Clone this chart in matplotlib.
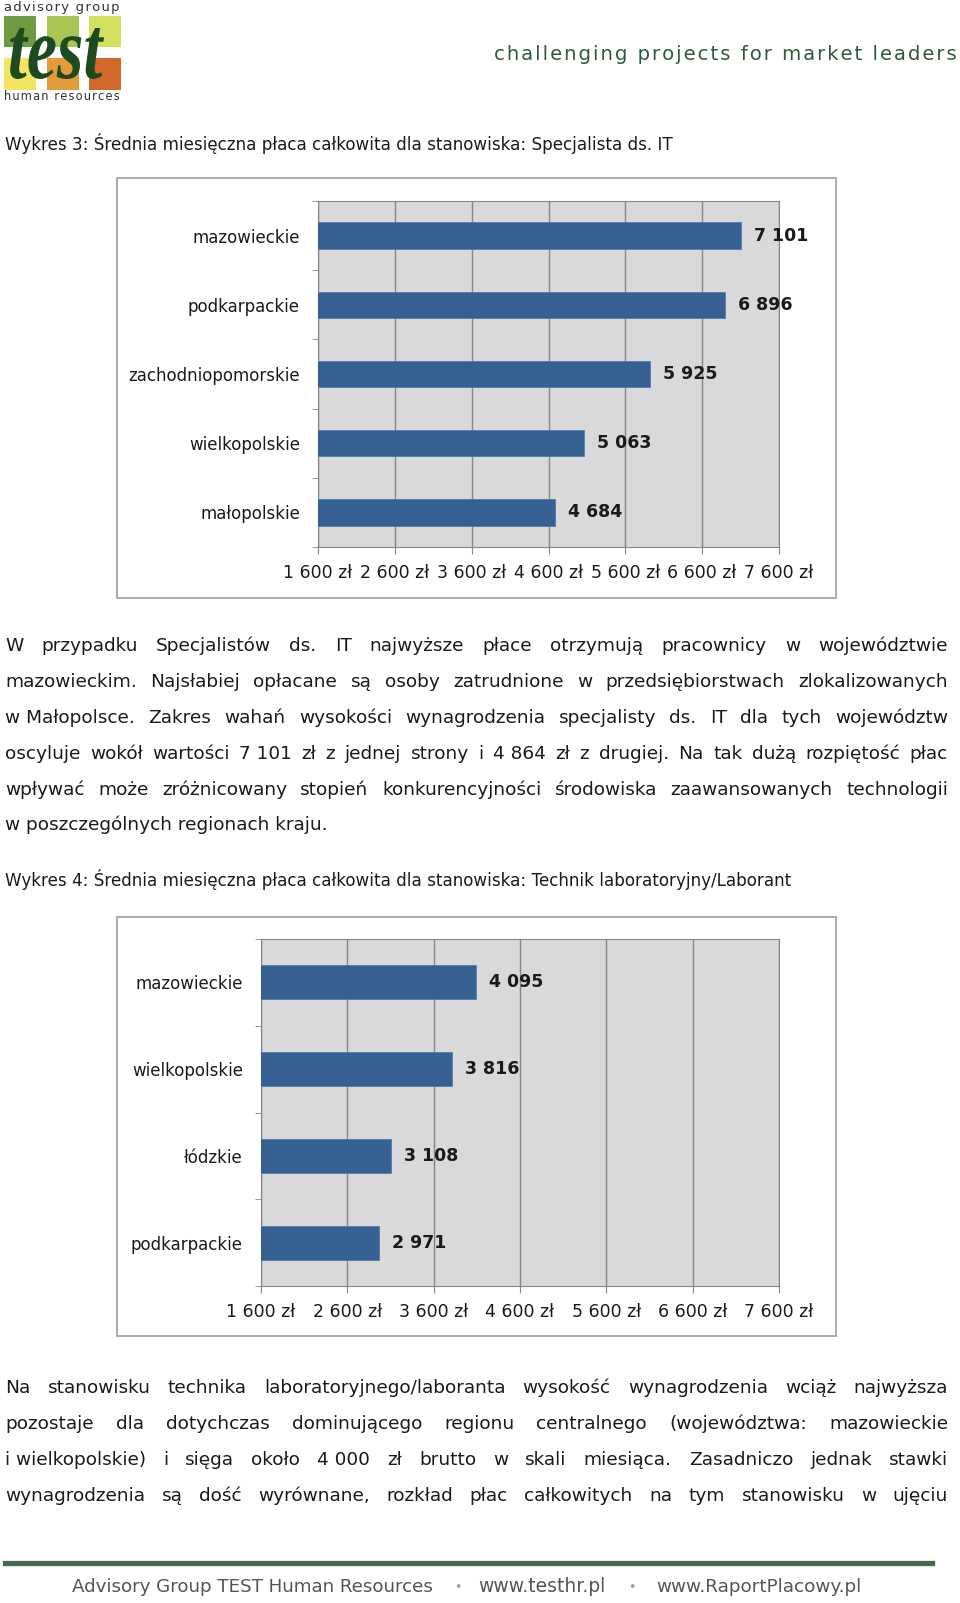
import matplotlib
matplotlib.use('Agg')
import matplotlib.pyplot as plt
from matplotlib.patches import Rectangle, PathPatch
from matplotlib.lines import Line2D
from matplotlib.textpath import TextPath
from matplotlib.font_manager import FontProperties
from matplotlib.transforms import Affine2D

# chart data
cats1 = ['mazowieckie', 'podkarpackie', 'zachodniopomorskie', 'wielkopolskie', 'małopolskie']
vals1 = [7101, 6896, 5925, 5063, 4684]
cats2 = ['mazowieckie', 'wielkopolskie', 'łódzkie', 'podkarpackie']
vals2 = [4095, 3816, 3108, 2971]
xticks = [1600, 2600, 3600, 4600, 5600, 6600, 7600]

caption3 = 'Wykres 3: Średnia miesięczna płaca całkowita dla stanowiska: Specjalista ds. IT'
caption4 = 'Wykres 4: Średnia miesięczna płaca całkowita dla stanowiska: Technik laboratoryjny/Laborant'
para1 = [
    'W przypadku Specjalistów ds. IT najwyższe płace otrzymują pracownicy w województwie',
    'mazowieckim. Najsłabiej opłacane są osoby zatrudnione w przedsiębiorstwach zlokalizowanych',
    'w\u00a0Małopolsce. Zakres wahań wysokości wynagrodzenia specjalisty ds. IT dla tych województw',
    'oscyluje wokół wartości 7\u00a0101 zł z jednej strony i 4\u00a0864 zł z drugiej. Na tak dużą rozpiętość płac',
    'wpływać może zróżnicowany stopień konkurencyjności środowiska zaawansowanych technologii',
    'w poszczególnych regionach kraju.',
]
para2 = [
    'Na stanowisku technika laboratoryjnego/laboranta wysokość wynagrodzenia wciąż najwyższa',
    'pozostaje dla dotychczas dominującego regionu centralnego (województwa: mazowieckie',
    'i\u00a0wielkopolskie) i sięga około 4\u00a0000 zł brutto w skali miesiąca. Zasadniczo jednak stawki',
    'wynagrodzenia są dość wyrównane, rozkład płac całkowitych na tym stanowisku w ujęciu',
]

W, H = 960, 1603
fig = plt.figure(figsize=(W / 100, H / 100), dpi=100)
plt.rcParams['font.family'] = ['DejaVu Sans']
renderer = fig.canvas.get_renderer()


def fx(x):
    return x / W


def fy(y):
    return 1 - y / H


def width_of(s, size, **kw):
    t = fig.text(0, 0, s, fontsize=size, **kw)
    w = t.get_window_extent(renderer).width
    t.remove()
    return w


def fit_size(s, target, **kw):
    return 10 * target / width_of(s, 10, **kw)


def put(x, y, s, size, **kw):
    fig.text(fx(x), fy(y), s, fontsize=size, va='baseline', **kw)


def justify(lines, y0, step, size, x0=5, x1=948, last_free=True):
    for i, line in enumerate(lines):
        y = y0 + i * step
        if last_free and i == len(lines) - 1:
            put(x0, y, line, size, color='#1a1a1a')
            continue
        words = line.split(' ')
        ws = [width_of(w, size) for w in words]
        gap = (x1 - x0 - sum(ws)) / (len(words) - 1)
        x = x0
        for w, wd in zip(words, ws):
            put(x, y, w, size, color='#1a1a1a')
            x += wd + gap


def tracked(s):
    return '\u200a'.join(s)


def fmt_tick(v):
    return f'{v // 1000} {v % 1000:03d} zł'


def fmt_val(v):
    return f'{v // 1000} {v % 1000:03d}'


def bar_chart(box, plot, cats, vals, bar_h):
    bx0, by0, bx1, by1 = box
    fig.patches.append(Rectangle((fx(bx0), fy(by1)), (bx1 - bx0) / W, (by1 - by0) / H,
                                 transform=fig.transFigure, fill=False,
                                 edgecolor='#a6a6a6', lw=1.3))
    px0, py0, px1, py1 = plot
    ax = fig.add_axes([fx(px0), fy(py1), (px1 - px0) / W, (py1 - py0) / H])
    ax.set_facecolor('#d9d9d9')
    ys = list(range(len(cats)))
    ax.barh(ys, vals, height=bar_h, color='#376092', edgecolor='#4f7bb0', lw=0.6, zorder=3)
    ax.set_xlim(1600, 7600)
    ax.set_ylim(len(cats) - 0.5, -0.5)
    ax.set_xticks(xticks)
    ax.set_xticklabels([fmt_tick(v) for v in xticks])
    ax.xaxis.grid(True, color='#868686', lw=1)
    ax.set_axisbelow(True)
    ax.set_yticks(ys)
    ax.set_yticklabels(cats)
    ax.set_yticks([i - 0.5 for i in range(len(cats) + 1)], minor=True)
    ax.tick_params(axis='y', which='major', length=0, pad=13, labelsize=12, labelcolor='#1a1a1a')
    ax.tick_params(axis='y', which='minor', length=4.5, color='#868686')
    ax.tick_params(axis='x', length=5, color='#868686', pad=7, labelsize=12.5, labelcolor='#1a1a1a')
    for sp in ax.spines.values():
        sp.set_color('#868686')
    for y, v in zip(ys, vals):
        ax.annotate(fmt_val(v), (v, y), xytext=(13, 0), textcoords='offset pixels',
                    va='center', ha='left', fontsize=12.5, fontweight='bold',
                    color='#1a1a1a', annotation_clip=False)
    return ax


# logo
sq_cols = [4, 47, 89]
top_colors = ['#6f9a3f', '#a9c653', '#d3e15e']
bot_colors = ['#f3e561', '#e59b3a', '#d3682b']
for x, c in zip(sq_cols, top_colors):
    fig.patches.append(Rectangle((fx(x), fy(47)), 32 / W, 31 / H, transform=fig.transFigure,
                                 color=c, lw=0))
for x, c in zip(sq_cols, bot_colors):
    fig.patches.append(Rectangle((fx(x), fy(90)), 32 / W, 32 / H, transform=fig.transFigure,
                                 color=c, lw=0))
s = tracked('advisory group')
put(4, 11, s, fit_size(s, 116), color='#333333')
s = tracked('human resources')
put(4, 100, s, fit_size(s, 116), color='#333333')

# "test" squeezed into its box (x 10-104, y 28-79)
tp = TextPath((0, 0), 'test', size=1,
              prop=FontProperties(family='Liberation Serif', style='italic', weight='bold'))
bb = tp.get_extents()
sx = (104 - 10) / bb.width
sy = (79 - 28) / bb.height
tr = Affine2D().translate(-bb.x0, -bb.y0).scale(sx / W, sy / H).translate(fx(10), fy(79))
fig.patches.append(PathPatch(tr.transform_path(tp), transform=fig.transFigure,
                             color='#1d4a20', lw=0))

s = tracked('challenging projects for market leaders')
put(494, 60, s, fit_size(s, 462), color='#2e5a3a')

# captions and text
cap_size = fit_size(caption3, 670)
put(5, 150, caption3, cap_size, color='#1a1a1a')
put(5, 886, caption4, cap_size, color='#1a1a1a')

body_size = fit_size(para1[-1], 323)
justify(para1, 651, 35.9, body_size)
justify(para2, 1393, 35.9, body_size, last_free=False)

# charts
bar_chart((117, 178, 836, 598), (318, 201, 779, 547), cats1, vals1, 0.38)
bar_chart((117, 917, 836, 1336), (261, 939, 779, 1286), cats2, vals2, 0.39)

# footer
fig.lines.append(Line2D([fx(5), fx(932)], [fy(1563), fy(1563)], transform=fig.transFigure,
                        color='#47694c', lw=3.8))
foot = ['Advisory Group TEST Human Resources', 'www.testhr.pl', 'www.RaportPlacowy.pl']
foot_x = [(72, 434), (478, 605), (656, 862)]
for t, (a, b) in zip(foot, foot_x):
    put(a, 1592, t, fit_size(t, b - a), color='#555555')
for x in [458, 632]:
    fig.text(fx(x), fy(1587), '•', fontsize=9, color='#a0a0a0', ha='center', va='center')

fig.savefig('out.png', dpi=100)
